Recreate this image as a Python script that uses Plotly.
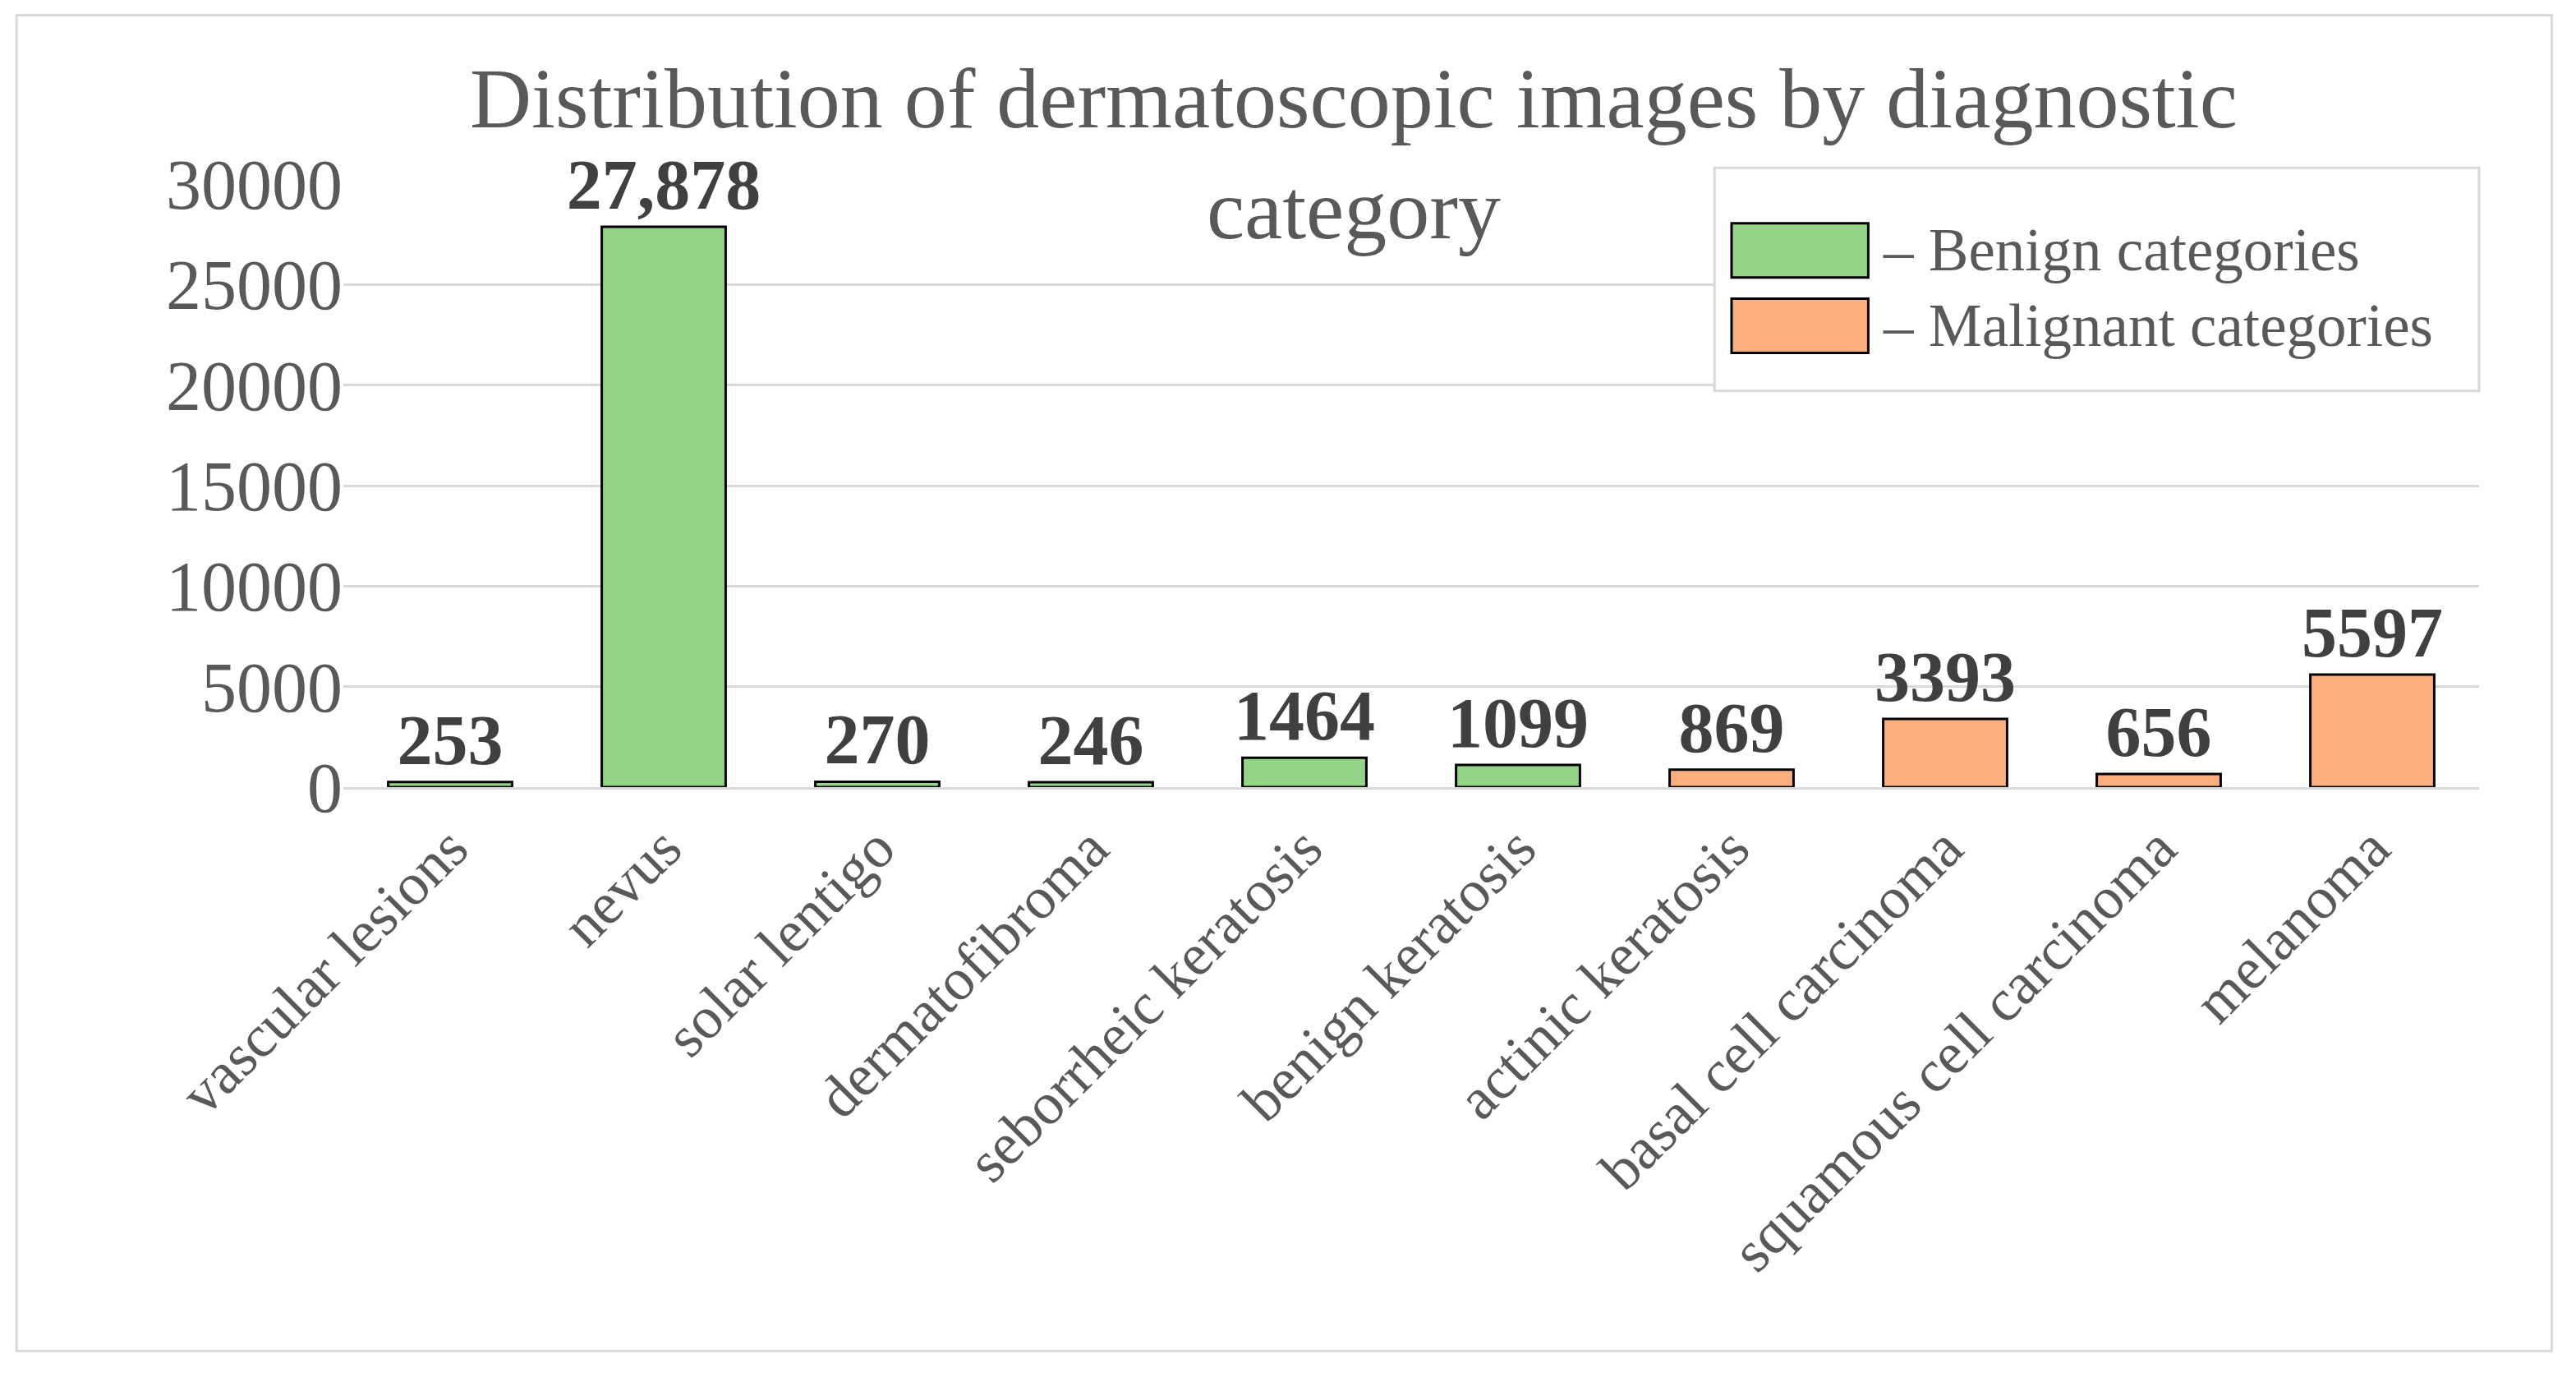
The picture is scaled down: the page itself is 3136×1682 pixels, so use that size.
import plotly.graph_objects as go

categories = ["vascular lesions", "nevus", "solar lentigo", "dermatofibroma",
              "seborrheic keratosis", "benign keratosis", "actinic keratosis",
              "basal cell carcinoma", "squamous cell carcinoma", "melanoma"]
counts = [253, 27878, 270, 246, 1464, 1099, 869, 3393, 656, 5597]
count_labels = ["253", "27,878", "270", "246", "1464", "1099", "869", "3393", "656", "5597"]
groups = ["Benign"] * 6 + ["Malignant"] * 4
y_ticks = [0, 5000, 10000, 15000, 20000, 25000, 30000]

GREEN = "#93D487"
ORANGE = "#FDB07E"
SERIF = "Liberation Serif"
GREY = "#595959"

colors = [GREEN if g == "Benign" else ORANGE for g in groups]

fig = go.Figure()
fig.add_trace(go.Bar(
    x=categories, y=counts, text=count_labels, textposition="outside",
    constraintext="none",
    marker=dict(color=colors, line=dict(color="black", width=3)),
    width=0.58, cliponaxis=False,
    textfont=dict(family=SERIF, size=86, color="#404040", weight="bold"),
))

fig.update_layout(
    width=3136, height=1682,
    paper_bgcolor="white", plot_bgcolor="white",
    margin=dict(l=410, r=126, t=216, b=732),
    showlegend=False, bargap=0.42,
    font=dict(family=SERIF, color=GREY),
)
fig.add_annotation(text="Distribution of dermatoscopic images by diagnostic<br>category",
                   xref="paper", yref="paper", x=0.5 - 70 / 2600, y=1.05, xanchor="center",
                   yanchor="middle", showarrow=False,
                   font=dict(family=SERIF, size=104, color=GREY))
fig.update_yaxes(range=[0, 30000], tickvals=y_ticks, tickformat="d", showgrid=True,
                 gridcolor="#D9D9D9", gridwidth=3, zeroline=False,
                 tickfont=dict(size=86, color=GREY), ticks="", showline=False)
fig.update_xaxes(tickangle=-45, tickfont=dict(size=72, color=GREY), showline=True,
                 linecolor="#D9D9D9", linewidth=3, ticks="")

# outer border
fig.add_shape(type="rect", xref="paper", yref="paper", x0=-0.153, x1=1.034, y0=-0.935, y1=1.28,
              line=dict(color="#D9D9D9", width=3), fillcolor="rgba(0,0,0,0)")

# legend box drawn by hand
fig.add_shape(type="rect", xref="paper", yref="paper", x0=0.642, x1=1.0, y0=0.657, y1=1.027,
              line=dict(color="#D9D9D9", width=3), fillcolor="white")
for i, (col, name) in enumerate([(GREEN, "– Benign categories"), (ORANGE, "– Malignant categories")]):
    yc = 0.89 - i * 0.125
    fig.add_shape(type="rect", xref="paper", yref="paper", x0=0.65, x1=0.714,
                  y0=yc - 0.045, y1=yc + 0.045, fillcolor=col, line=dict(color="black", width=3))
    fig.add_annotation(text=name, xref="paper", yref="paper", x=0.72, y=yc, xanchor="left",
                       yanchor="middle", showarrow=False,
                       font=dict(family=SERIF, size=73, color=GREY))

fig.write_html("out.html")
